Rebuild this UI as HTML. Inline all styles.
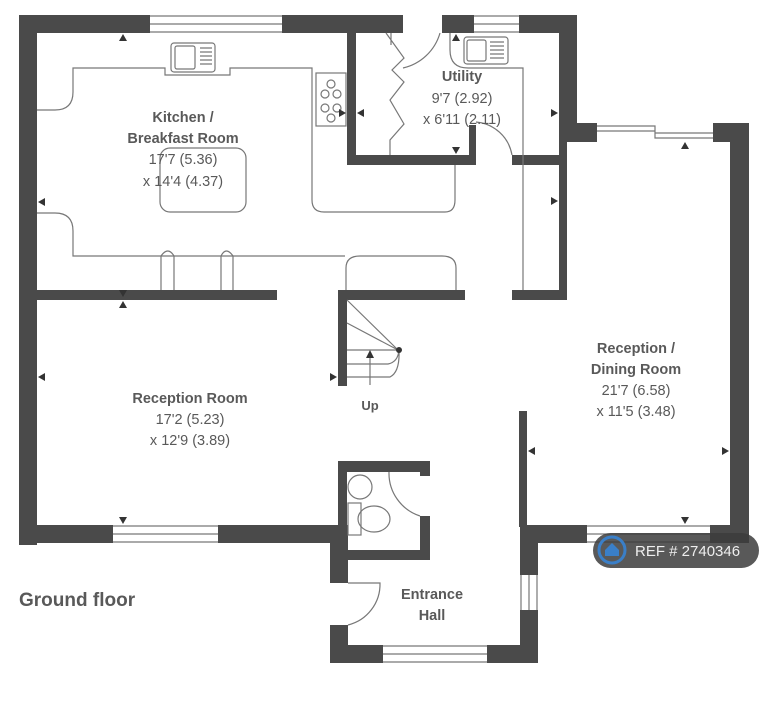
<!DOCTYPE html>
<html><head><meta charset="utf-8"><style>
html,body{margin:0;padding:0;background:#fff;}
svg{display:block;}
text{font-family:"Liberation Sans",sans-serif;fill:#595959;}
.b{font-weight:bold;}
</style></head><body>
<svg width="768" height="706" viewBox="0 0 768 706" xmlns="http://www.w3.org/2000/svg">
<g fill="#4a4a4a">
<!-- outer left/top -->
<rect x="19" y="15" width="18" height="530"/>
<rect x="19" y="15" width="131" height="18"/>
<rect x="282" y="15" width="121" height="18"/>
<rect x="442" y="15" width="32" height="18"/>
<rect x="519" y="15" width="58" height="18"/>
<!-- utility -->
<rect x="347" y="33" width="9" height="132"/>
<rect x="347" y="155" width="125" height="10"/>
<rect x="469" y="125" width="7" height="40"/>
<rect x="559" y="15" width="18" height="127"/>
<rect x="559" y="123" width="38" height="19"/>
<rect x="512" y="155" width="55" height="10"/>
<rect x="559" y="142" width="8" height="158"/>
<rect x="512" y="290" width="55" height="10"/>
<!-- right -->
<rect x="713" y="123" width="36" height="19"/>
<rect x="730" y="123" width="19" height="420"/>
<rect x="527" y="525" width="60" height="18"/>
<rect x="710" y="525" width="39" height="18"/>
<!-- central vertical -->
<rect x="519" y="411" width="8" height="116"/>
<rect x="520" y="525" width="18" height="50"/>
<rect x="520" y="610" width="18" height="53"/>
<rect x="330" y="645" width="53" height="18"/>
<rect x="487" y="645" width="51" height="18"/>
<rect x="330" y="525" width="18" height="58"/>
<rect x="330" y="625" width="18" height="38"/>
<!-- reception bottom -->
<rect x="19" y="525" width="94" height="18"/>
<rect x="218" y="525" width="130" height="18"/>
<!-- WC -->
<rect x="338" y="461" width="92" height="11"/>
<rect x="338" y="461" width="9" height="90"/>
<rect x="420" y="461" width="10" height="15"/>
<rect x="420" y="516" width="10" height="44"/>
<rect x="332" y="550" width="98" height="10"/>
<!-- divider -->
<rect x="37" y="290" width="240" height="10"/>
<rect x="338" y="290" width="127" height="10"/>
<rect x="338" y="290" width="9" height="96"/>
</g>
<g fill="none" stroke="#777" stroke-width="1.2">
<!-- windows -->
<path d="M150 16H282M150 24H282M150 32H282"/>
<path d="M474 16H519M474 24H519M474 32H519"/>
<path d="M597 126H655V133H713M597 131H655V138H713"/>
<path d="M587 526H710M587 534H710M587 542H710"/>
<path d="M113 526H218M113 534H218M113 542H218"/>
<path d="M383 646H487M383 654H487M383 662H487"/>
<path d="M521 575V610M529 575V610M537 575V610"/>
<!-- kitchen counters -->
<path d="M37 110H55Q73 110 73 92V68H165V75H230V68H312V200Q312 212 324 212H445Q455 212 455 200V165"/>
<path d="M37 213H55Q73 213 73 231V256H345"/>
<rect x="160" y="148" width="86" height="64" rx="10"/>
<rect x="171" y="43" width="44" height="29" rx="3"/>
<rect x="175" y="46" width="20" height="23" rx="2"/>
<path d="M200 48H212M200 52H212M200 56H212M200 60H212M200 64H212"/>
<rect x="316" y="73" width="30" height="53"/>
<circle cx="331" cy="84" r="4"/><circle cx="325" cy="94" r="4"/><circle cx="337" cy="94" r="4"/>
<circle cx="325" cy="108" r="4"/><circle cx="337" cy="108" r="4"/><circle cx="331" cy="118" r="4"/>
<path d="M161 290V256Q168 246 174 256V290M221 290V256Q226 246 233 256V290"/>
<!-- utility -->
<path d="M386 33L404 58L392 70L404 82L390 100L404 124L390 140V155M391 33V45"/>
<path d="M403 68A50 50 0 0 0 440 33"/>
<path d="M450 33V50Q450 68 468 68H523V290"/>
<rect x="464" y="37" width="44" height="27" rx="3"/>
<rect x="467" y="40" width="19" height="21" rx="2"/>
<path d="M490 42H504M490 46H504M490 50H504M490 54H504M490 58H504"/>
<path d="M476 122A40 40 0 0 1 512 155"/>
<!-- table near stairs -->
<path d="M346 290V268Q346 256 360 256H442Q456 256 456 268V290"/>
<!-- stairs -->
<path d="M347 300L398 350M347 323L398 350M347 350H398M347 364H388Q398 362 399 350M347 377H390Q400 372 399 350"/>
<path d="M370 385V352"/>
<!-- WC -->
<circle cx="360" cy="487" r="12"/>
<rect x="348" y="503" width="13" height="32"/>
<ellipse cx="374" cy="519" rx="16" ry="13"/>
<path d="M389 472A45 45 0 0 0 420 516"/>
<!-- entrance door -->
<path d="M348 583H380A42 42 0 0 1 348 625"/>
</g>
<g fill="#333">
<path d="M370 350l-4 8h8z"/><circle cx="399" cy="350" r="3"/>
<path d="M123 34l-4 7h8z M123 297l-4 -7h8z M123 301l-4 7h8z M123 524l-4-7h8z"/>
<path d="M38 202l7-4v8z M38 377l7-4v8z M337 377l-7-4v8z"/>
<path d="M346 113l-7-4v8z M357 113l7-4v8z M558 113l-7-4v8z M558 201l-7-4v8z"/>
<path d="M456 34l-4 7h8z M456 154l-4-7h8z M685 142l-4 7h8z M685 524l-4-7h8z"/>
<path d="M528 451l7-4v8z M729 451l-7-4v8z"/>
</g>
<g text-anchor="middle" font-size="14.5">
<text x="183" y="122" class="b">Kitchen /</text>
<text x="183" y="143" class="b">Breakfast Room</text>
<text x="183" y="164">17'7 (5.36)</text>
<text x="183" y="186">x 14'4 (4.37)</text>
<text x="462" y="81" class="b">Utility</text>
<text x="462" y="103">9'7 (2.92)</text>
<text x="462" y="124">x 6'11 (2.11)</text>
<text x="190" y="403" class="b">Reception Room</text>
<text x="190" y="424">17'2 (5.23)</text>
<text x="190" y="445">x 12'9 (3.89)</text>
<text x="636" y="353" class="b">Reception /</text>
<text x="636" y="374" class="b">Dining Room</text>
<text x="636" y="395">21'7 (6.58)</text>
<text x="636" y="416">x 11'5 (3.48)</text>
<text x="370" y="410" class="b" font-size="13">Up</text>
<text x="432" y="599" class="b">Entrance</text>
<text x="432" y="620" class="b">Hall</text>
</g>
<text x="19" y="606" class="b" font-size="19" fill="#666">Ground floor</text>
<rect x="593" y="533" width="166" height="35" rx="17.5" fill="#3c3c3c" fill-opacity="0.85"/>
<circle cx="612" cy="550" r="13" fill="none" stroke="#3a7fc8" stroke-width="3"/>
<path d="M612 543l-7 7v6h14v-6z" fill="#3a7fc8"/>
<text x="635" y="556" font-size="15" style="fill:#eee">REF # 2740346</text>
</svg>
</body></html>
